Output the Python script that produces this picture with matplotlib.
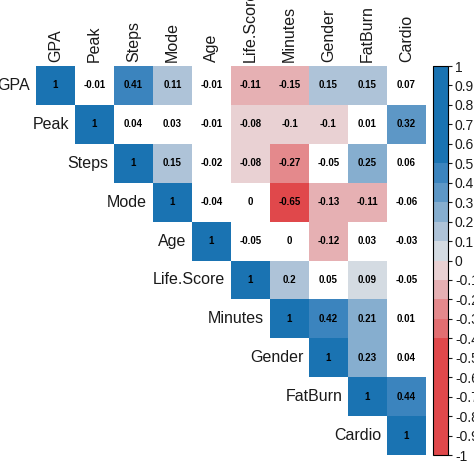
import numpy as np
import matplotlib

matplotlib.use("Agg")

import matplotlib.pyplot as plt
from matplotlib.colors import ListedColormap, BoundaryNorm
from matplotlib.colorbar import ColorbarBase

plt.rcParams["font.family"] = ["Liberation Sans", "DejaVu Sans"]

variables = ["GPA", "Peak", "Steps", "Mode", "Age", "Life.Score",
             "Minutes", "Gender", "FatBurn", "Cardio"]

# upper triangle, row by row, starting at the diagonal
# (the two Peak "-0.1" cells are shaded like -0.08, so they sit just above -0.1)
row_gpa = [1, -0.01, 0.41, 0.11, -0.01, -0.11, -0.15, 0.15, 0.15, 0.07]
row_peak = [1, 0.04, 0.03, -0.01, -0.08, -0.097, -0.097, 0.01, 0.32]
row_steps = [1, 0.15, -0.02, -0.08, -0.27, -0.05, 0.25, 0.06]
row_mode = [1, -0.04, 0.00, -0.65, -0.13, -0.11, -0.06]
row_age = [1, -0.05, 0.00, -0.12, 0.03, -0.03]
row_life = [1, 0.20, 0.05, 0.09, -0.05]
row_minutes = [1, 0.42, 0.21, 0.01]
row_gender = [1, 0.23, 0.04]
row_fatburn = [1, 0.44]
row_cardio = [1]

rows = [row_gpa, row_peak, row_steps, row_mode, row_age, row_life,
        row_minutes, row_gender, row_fatburn, row_cardio]

colorbar_ticks = [-1, -0.9, -0.8, -0.7, -0.6, -0.5, -0.4, -0.3, -0.2, -0.1,
                  0, 0.1, 0.2, 0.3, 0.4, 0.5, 0.6, 0.7, 0.8, 0.9, 1]

# 20 bins of width 0.1 from -1 to 1
bin_colors = (["#e0484b"] * 6 +
              ["#e26e71", "#e4898c", "#e6b0b3", "#e9d1d3",
               "#d4dbe2", "#aec3d8", "#86aecf", "#5d97c6", "#3b84be"] +
              ["#1a73b2"] * 5)

n = len(variables)
corr = np.full((n, n), np.nan)
for i, r in enumerate(rows):
    corr[i, i:] = r

shade = np.ma.masked_where(np.isnan(corr) | (np.abs(np.nan_to_num(corr)) < 0.075), corr)

cmap = ListedColormap(bin_colors)
cmap.set_bad("white")
bounds = np.linspace(-1, 1, 21)
norm = BoundaryNorm(bounds, cmap.N)

W, H = 474, 461
fig = plt.figure(figsize=(W / 100, H / 100), dpi=100)
ax = fig.add_axes([36 / W, 6 / H, 390 / W, 389 / H])
ax.pcolormesh(np.arange(n + 1), np.arange(n + 1), shade, cmap=cmap, norm=norm,
              edgecolors="none", antialiased=False)
ax.set_xlim(0, n)
ax.set_ylim(n, 0)
ax.axis("off")

for i in range(n):
    for j in range(i, n):
        v = corr[i, j]
        txt = "1" if i == j else f"{round(v, 2) + 0.0:g}"
        ax.text(j + 0.5, i + 0.5, txt, ha="center", va="center",
                fontsize=7, fontweight="bold", color="black")
    # row label left of diagonal
    ax.text(i - 0.15, i + 0.5, variables[i], ha="right", va="center",
            fontsize=11.5, color="#1a1a1a", clip_on=False)
    # column label on top
    ax.text(i + 0.5, -0.1, variables[i], ha="center", va="bottom",
            rotation=90, fontsize=11.5, color="#1a1a1a", clip_on=False)

cax = fig.add_axes([433 / W, 6 / H, 15 / W, 389 / H])
cb = ColorbarBase(cax, cmap=cmap, norm=norm, boundaries=bounds,
                  ticks=colorbar_ticks)
cb.set_ticklabels([f"{t:g}" for t in colorbar_ticks])
cb.outline.set_linewidth(0.8)
cax.tick_params(labelsize=10, length=3, width=0.8, pad=2, colors="#1a1a1a")

fig.savefig("out.png", dpi=100)
